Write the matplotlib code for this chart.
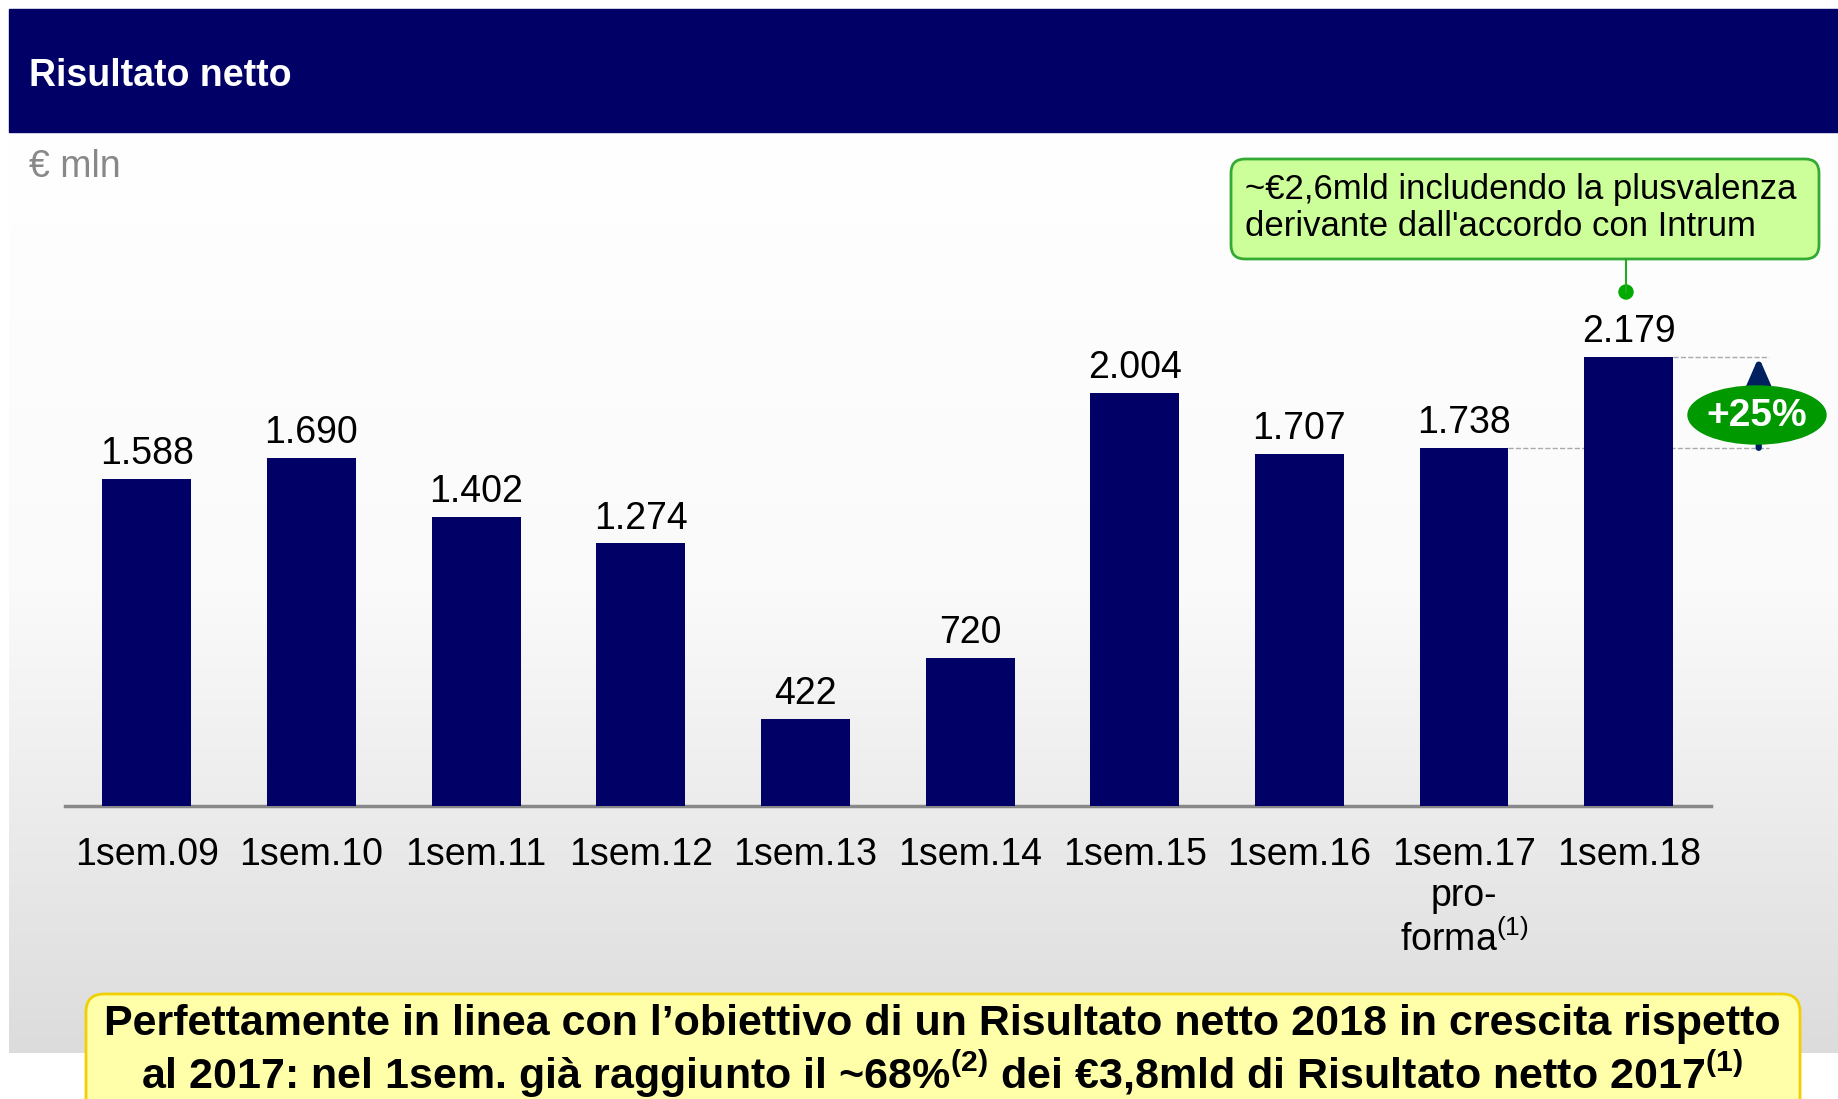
import numpy as np
import matplotlib
matplotlib.use("Agg")
import matplotlib.pyplot as plt
from matplotlib.patches import Rectangle, FancyBboxPatch, Ellipse
from matplotlib.colors import LinearSegmentedColormap

plt.rcParams['font.family'] = ['Liberation Sans', 'DejaVu Sans']
plt.rcParams['mathtext.fontset'] = 'custom'
plt.rcParams['mathtext.rm'] = 'Liberation Sans'
plt.rcParams['mathtext.bf'] = 'Liberation Sans:bold'

# --- dati ---
periodi = ["1sem.09", "1sem.10", "1sem.11", "1sem.12", "1sem.13",
           "1sem.14", "1sem.15", "1sem.16", "1sem.17\npro-\nforma$^{\\mathrm{(1)}}$", "1sem.18"]
risultato = [1588, 1690, 1402, 1274, 422, 720, 2004, 1707, 1738, 2179]
etichette = ["1.588", "1.690", "1.402", "1.274", "422", "720", "2.004", "1.707", "1.738", "2.179"]

NAVY = '#000066'
W, H = 1838, 1099

fig = plt.figure(figsize=(W / 100, H / 100), dpi=100)

# sfondo in coordinate pixel
bg = fig.add_axes([0, 0, 1, 1])
grad = LinearSegmentedColormap.from_list('g', ['#ffffff', '#fafafa', '#dcdcdc'])
bg.imshow(np.linspace(0, 1, 256).reshape(-1, 1), cmap=grad, aspect='auto',
          extent=[9, W, 1053, 132], zorder=0)
bg.add_patch(Rectangle((9, 9), W - 9, 123, color=NAVY, zorder=1))
bg.text(29, 76, "Risultato netto", color='white', fontsize=27, fontweight='bold',
        va='center', ha='left', zorder=2)
bg.text(29, 167, "€ mln", color='#888888', fontsize=27, va='center', ha='left')
bg.set_xlim(0, W)
bg.set_ylim(H, 0)
bg.axis('off')

# grafico a barre
ax = fig.add_axes([64.5 / W, (H - 806) / H, 1646.5 / W, 577 / H])
ax.set_facecolor('none')
x = np.arange(len(periodi))
rects = ax.bar(x, risultato, width=0.54, color=NAVY, zorder=3)
ax.bar_label(rects, labels=etichette, padding=5, fontsize=27)
ax.set_xlim(-0.5, 9.5)
ax.set_ylim(0, 2800)
ax.set_xticks(x)
ax.set_xticklabels(periodi, fontsize=27, linespacing=1.2)
ax.tick_params(axis='x', length=0, pad=22)
ax.set_yticks([])
for s in ['top', 'right', 'left']:
    ax.spines[s].set_visible(False)
ax.spines['bottom'].set_color('#888888')
ax.spines['bottom'].set_linewidth(2.5)

# linee tratteggiate e freccia
ax.plot([9.27, 9.85], [risultato[9], risultato[9]], ls='--', color='#aaaaaa', lw=1, clip_on=False)
ax.plot([8.27, 9.85], [risultato[8], risultato[8]], ls='--', color='#aaaaaa', lw=1, clip_on=False)
ax.annotate('', xy=(9.79, risultato[9]), xytext=(9.79, risultato[8]),
            arrowprops=dict(arrowstyle='-|>,head_length=0.55,head_width=0.24', color='#002060',
                            lw=4.5, mutation_scale=36, shrinkA=0, shrinkB=0),
            annotation_clip=False)

# elementi in primo piano
fg = fig.add_axes([0, 0, 1, 1])
fg.set_facecolor('none')
fg.add_patch(Ellipse((1757, 415), 138, 58, color='#009900', zorder=2))
fg.text(1757, 416, "+25%", color='white', fontsize=28, fontweight='bold',
        ha='center', va='center', zorder=3)

fg.add_patch(FancyBboxPatch((1231, 159), 588, 100, boxstyle='round,pad=0,rounding_size=14',
                            fc='#ccff99', ec='#33aa33', lw=2))
fg.text(1245, 189, "~€2,6mld includendo la plusvalenza", fontsize=25, va='center', ha='left')
fg.text(1245, 226, "derivante dall'accordo con Intrum", fontsize=25, va='center', ha='left')
fg.plot([1626, 1626], [259, 292], color='#22aa22', lw=1.5)
fg.add_patch(Ellipse((1626, 292), 14, 14, color='#00aa00'))

fg.add_patch(FancyBboxPatch((86, 994), 1714, 140, boxstyle='round,pad=0,rounding_size=18',
                            fc='#ffffaa', ec='#f0d000', lw=2))
fg.text(942, 1024, "Perfettamente in linea con l’obiettivo di un Risultato netto 2018 in crescita rispetto",
        fontsize=31, fontweight='bold', ha='center', va='center')
fg.text(942, 1074, "al 2017: nel 1sem. già raggiunto il ~68%$^{\\mathbf{(2)}}$ dei €3,8mld di Risultato netto 2017$^{\\mathbf{(1)}}$",
        fontsize=31, fontweight='bold', ha='center', va='center')
fg.set_xlim(0, W)
fg.set_ylim(H, 0)
fg.axis('off')

fig.savefig("out.png", dpi=100)
